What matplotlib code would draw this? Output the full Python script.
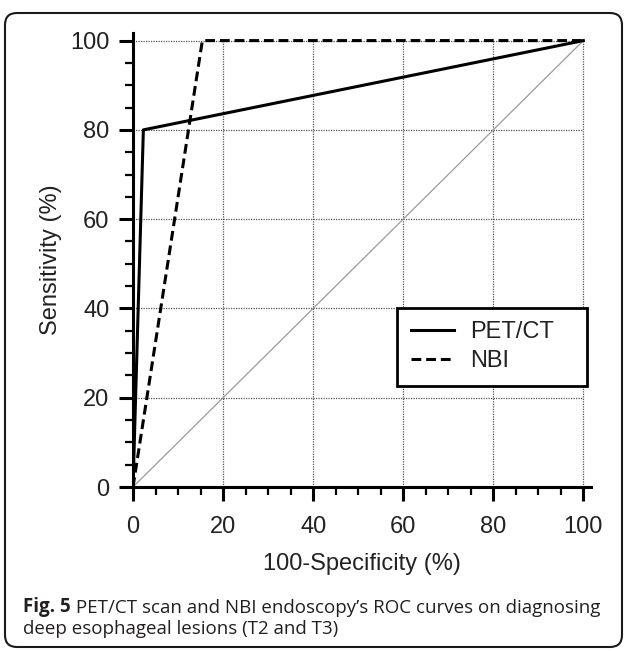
import matplotlib
matplotlib.use("Agg")
import matplotlib.pyplot as plt
from matplotlib.patches import FancyBboxPatch

# ROC points (100-specificity, sensitivity)
pet_x = [0, 2.3, 100]
pet_y = [0, 80, 100]
nbi_x = [0, 15.4, 100]
nbi_y = [0, 100, 100]
ref_x = [0, 100]
ref_y = [0, 100]
major_ticks = [0, 20, 40, 60, 80, 100]
minor_ticks = list(range(0, 101, 5))
grid_vals = [20, 40, 60, 80, 100]

plt.rcParams['font.family'] = ['Liberation Sans', 'DejaVu Sans']
txt_col = '#222222'

fig = plt.figure(figsize=(6.24, 6.51), dpi=100)
ax = fig.add_axes([133/624, 1-487/651, (591-133)/624, (487-33)/651])
ax.set_xlim(0, 101.7)
ax.set_ylim(0, 101.7)

# dotted grid limited to the 0-100 box
ax.hlines(grid_vals, 0, 100, colors='#555555', linestyles=(0, (1, 1)), linewidth=0.9, zorder=1)
ax.vlines(grid_vals, 0, 100, colors='#555555', linestyles=(0, (1, 1)), linewidth=0.9, zorder=1)

ax.plot(ref_x, ref_y, color='#9a9a9a', linewidth=0.9, zorder=2)
ax.plot(pet_x, pet_y, color='black', linewidth=2.2, label='PET/CT', zorder=3)
ax.plot(nbi_x, nbi_y, color='black', linewidth=2.2, linestyle=(0, (3.2, 1.6)), label='NBI', zorder=3)

for s in ['top', 'right']:
    ax.spines[s].set_visible(False)
for s in ['left', 'bottom']:
    ax.spines[s].set_linewidth(2.2)

ax.set_xticks(major_ticks)
ax.set_yticks(major_ticks)
ax.set_xticks(minor_ticks, minor=True)
ax.set_yticks(minor_ticks, minor=True)
ax.tick_params(which='major', length=10, width=2.2, labelsize=17, labelcolor=txt_col)
ax.tick_params(axis='x', which='major', pad=11)
ax.tick_params(axis='y', which='major', pad=7)
ax.tick_params(which='minor', length=6, width=1.6)

ax.set_xlabel('100-Specificity (%)', fontsize=17, color=txt_col, labelpad=11)
ax.set_ylabel('Sensitivity (%)', fontsize=17, color=txt_col, labelpad=6)

leg = ax.legend(loc='lower left', bbox_to_anchor=(58.7, 22.6, 42.2, 17.2),
                bbox_transform=ax.transData, mode='expand', borderaxespad=0,
                fontsize=17, frameon=True, fancybox=False, handlelength=1.8,
                handletextpad=0.7, labelspacing=0.3, borderpad=0.58)
leg.get_frame().set_edgecolor('black')
leg.get_frame().set_linewidth(2.0)
leg.get_frame().set_alpha(1)
for t in leg.get_texts():
    t.set_color(txt_col)

# outer rounded frame
frame = FancyBboxPatch((5, 4), 617, 634, boxstyle='round,pad=0,rounding_size=12',
                       transform=None, facecolor='none', edgecolor='#1a1a1a', linewidth=1.5)
fig.patches.append(frame)

# caption
cap_font = ['Open Sans', 'DejaVu Sans']
t1 = fig.text(23/624, 1-612/651, 'Fig. 5', fontsize=13.5, fontweight='bold',
              family=cap_font, color='#231f20', va='baseline')
ax.annotate(" PET/CT scan and NBI endoscopy\u2019s ROC curves on diagnosing",
            xy=(1, 0), xycoords=t1, va='bottom', ha='left', fontsize=13.5,
            family=cap_font, color='#231f20', annotation_clip=False)
fig.text(23/624, 1-634/651, 'deep esophageal lesions (T2 and T3)', fontsize=13.5,
         family=cap_font, color='#231f20', va='baseline')

fig.savefig('out.png', dpi=100)
